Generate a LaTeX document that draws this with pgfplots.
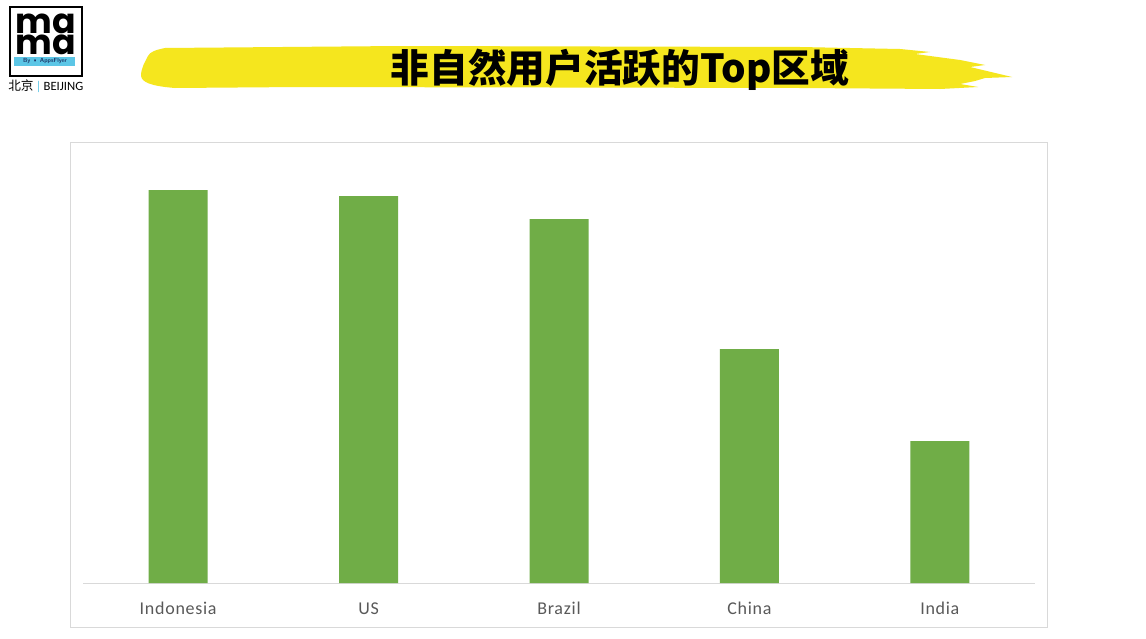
\documentclass[border=0pt]{standalone}
\usepackage{pgfplots}
\pgfplotsset{compat=1.18}
\usepackage{fontspec}
\setmainfont{Carlito}
\newfontfamily\cjk{Noto Sans CJK SC}
\newfontfamily\pop{Poppins}
\definecolor{bargreen}{HTML}{70AD47}
\definecolor{brush}{HTML}{F5E61E}
\definecolor{frame}{HTML}{D9D9D9}
\definecolor{ticktext}{HTML}{595959}
\definecolor{logoblue}{HTML}{5CC6E6}
\definecolor{logonavy}{HTML}{1F3A6B}

\begin{document}
\begin{tikzpicture}
  \begin{scope}[x=0.75pt,y=-0.75pt]
    \fill[white] (0,0) rectangle (1146,639);
    % logo
    \draw[black,line width=2.2pt] (10,7) rectangle (82,76);
    \node[font=\pop\bfseries\fontsize{26}{26}\selectfont,inner sep=0pt,anchor=base] at (46,33) {ma};
    \node[font=\pop\bfseries\fontsize{26}{26}\selectfont,inner sep=0pt,anchor=base] at (46,54) {ma};
    \fill[logoblue] (14,57) rectangle (75,66);
    \node[font=\sffamily\bfseries\fontsize{4.5}{5}\selectfont,text=logonavy,inner sep=0pt] at (45,61.5) {By \textbullet\ AppsFlyer};
    \node[font=\fontsize{9.5}{10}\selectfont,inner sep=0pt,anchor=west] at (8,86) {{\cjk 北京}\,{\color{logoblue}|}\,BEIJING};
    % brush stroke
    \fill[brush] (148,56) .. controls (150,52) and (155,50) .. (165,48)
      -- (400,46) -- (800,47) -- (900,49) -- (930,52) -- (915,54) -- (960,60)
      -- (985,65) -- (970,67) -- (1012,77) -- (985,78) -- (975,81) -- (960,84)
      -- (978,87) -- (940,89) -- (800,88) -- (300,87) -- (175,88)
      .. controls (150,86) and (142,82) .. (141,76)
      .. controls (141,68) and (145,62) .. (148,56) -- cycle;
    \node[font=\cjk\bfseries\fontsize{29}{33}\selectfont,inner sep=0pt] at (620,70) {非自然用户活跃的Top区域};
    % chart frame
    \draw[frame,line width=0.75pt] (70,142) rectangle (1047,627);
  \end{scope}
  \begin{axis}[
      at={(62.25pt,-437.25pt)}, anchor=south west,
      scale only axis, width=714pt, height=324.75pt,
      ybar, bar width=44.25pt, bar shift=0pt,
      xmin=-0.5, xmax=4.5, ymin=0, ymax=433,
      axis x line=bottom, axis y line=none,
      x axis line style={draw=frame,line width=0.75pt,-},
      xtick=data, major tick length=0pt,
      xticklabels={Indonesia,US,Brazil,China,India},
      xticklabel style={font=\fontsize{13.5}{15}\selectfont\addfontfeatures{LetterSpace=4},text=ticktext,yshift=-11pt},
    ]
    \addplot[fill=bargreen,draw=none] coordinates {
      (0,393) (1,387) (2,364) (3,234) (4,142)
    };
  \end{axis}
\end{tikzpicture}
\end{document}
